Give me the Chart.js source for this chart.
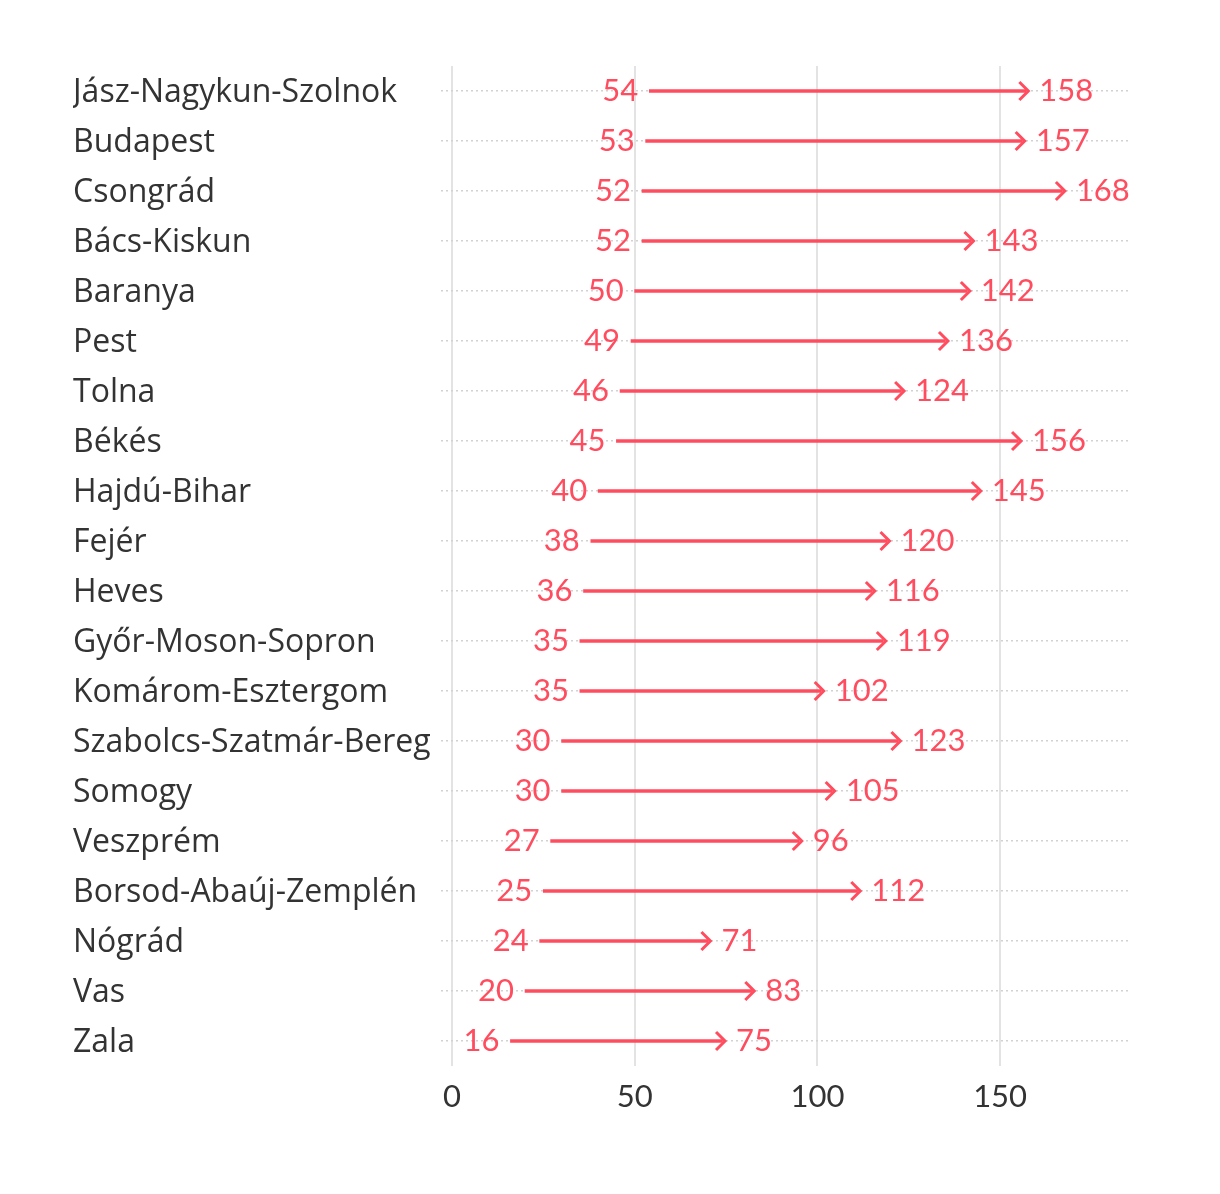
<!DOCTYPE html>
<html>
<head>
<meta charset="utf-8">
<script src="https://cdn.jsdelivr.net/npm/chart.js@4/dist/chart.umd.min.js"></script>
<style>
html,body{margin:0;padding:0;background:#fff;}
canvas{display:block;}
</style>
</head>
<body>
<canvas id="c" width="1220" height="1194"></canvas>
<script>
const categories = ["Jász-Nagykun-Szolnok","Budapest","Csongrád","Bács-Kiskun","Baranya","Pest","Tolna","Békés","Hajdú-Bihar","Fejér","Heves","Győr-Moson-Sopron","Komárom-Esztergom","Szabolcs-Szatmár-Bereg","Somogy","Veszprém","Borsod-Abaúj-Zemplén","Nógrád","Vas","Zala"];
const startValues = [54,53,52,52,50,49,46,45,40,38,36,35,35,30,30,27,25,24,20,16];
const endValues = [158,157,168,143,142,136,124,156,145,120,116,119,102,123,105,96,112,71,83,75];
const xTicks = [0,50,100,150];

const RED = '#ff4d5f';
const FONT_FAMILY = 'Lato, "Open Sans", sans-serif';
const CAT_FAMILY = '"Open Sans", Lato, sans-serif';
const FONT_SIZE = 31;

const arrowPlugin = {
  id: 'arrows',
  afterDatasetsDraw(chart) {
    const ctx = chart.ctx;
    const xs = chart.scales.x, ys = chart.scales.y;
    ctx.save();
    ctx.font = FONT_SIZE + 'px ' + FONT_FAMILY;
    ctx.textBaseline = 'middle';
    for (let i = 0; i < categories.length; i++) {
      const y = ys.getPixelForValue(i);
      const x0 = xs.getPixelForValue(startValues[i]);
      const x1 = xs.getPixelForValue(endValues[i]);
      ctx.strokeStyle = RED;
      ctx.lineWidth = 3;
      ctx.lineJoin = 'miter';
      ctx.lineCap = 'butt';
      ctx.beginPath();
      ctx.moveTo(x1 - 10, y - 9);
      ctx.lineTo(x1 - 1, y);
      ctx.lineTo(x1 - 10, y + 9);
      ctx.stroke();
      ctx.fillStyle = RED;
      ctx.textAlign = 'right';
      ctx.fillText(String(startValues[i]), x0 - 11, y);
      ctx.textAlign = 'left';
      ctx.fillText(String(endValues[i]), x1 + 10, y);
    }
    ctx.restore();
  }
};

new Chart(document.getElementById('c'), {
  type: 'bar',
  data: {
    labels: categories,
    datasets: [{
      data: categories.map((c, i) => [startValues[i], endValues[i] - 1]),
      backgroundColor: RED,
      borderWidth: 0,
      barThickness: 3
    }]
  },
  options: {
    indexAxis: 'y',
    responsive: false,
    animation: false,
    devicePixelRatio: 1,
    layout: { padding: { top: 66, left: 73, right: 92, bottom: 68 } },
    plugins: { legend: { display: false }, tooltip: { enabled: false } },
    scales: {
      x: {
        type: 'linear',
        min: -3,
        max: 185,
        afterBuildTicks(scale) { scale.ticks = xTicks.map(v => ({ value: v })); },
        afterFit(scale) { scale.height = 60; },
        grid: { color: '#e3e3e3', lineWidth: 2, drawTicks: false },
        border: { display: false },
        ticks: { color: '#333333', font: { family: FONT_FAMILY, size: FONT_SIZE }, padding: 12, maxRotation: 0 }
      },
      y: {
        type: 'category',
        offset: true,
        afterFit(scale) { scale.width = 368; },
        grid: { color: '#d2d2d2', lineWidth: 1.5, drawTicks: false, offset: false },
        border: { display: false, dash: [2, 3] },
        ticks: { color: '#333333', font: { family: CAT_FAMILY, size: 32 }, crossAlign: 'far', padding: 10, labelOffset: 2 }
      }
    }
  },
  plugins: [arrowPlugin]
});
</script>
</body>
</html>
